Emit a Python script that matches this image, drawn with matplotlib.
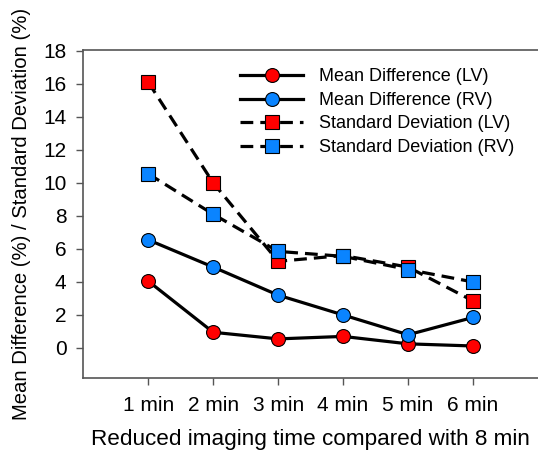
import matplotlib
matplotlib.use("Agg")
import matplotlib.pyplot as plt

plt.rcParams['font.family'] = ['Liberation Sans', 'DejaVu Sans']

# data
minutes = [1, 2, 3, 4, 5, 6]
labels = ["1 min", "2 min", "3 min", "4 min", "5 min", "6 min"]
mean_lv = [4.05, 0.95, 0.55, 0.7, 0.25, 0.12]
mean_rv = [6.55, 4.9, 3.2, 2.0, 0.8, 1.85]
sd_lv = [16.1, 10.0, 5.25, 5.6, 4.9, 2.85]
sd_rv = [10.55, 8.1, 5.85, 5.55, 4.75, 4.0]

red = "#ff0000"
blue = "#0a84ff"

fig = plt.figure(figsize=(5.38, 4.5), dpi=100)
ax = fig.add_axes([0.1548, 0.1607, 0.8452, 0.7282])

ax.plot(minutes, mean_lv, color="black", lw=2.3, marker="o", ms=10,
        mfc=red, mec="black", mew=0.8, label="Mean Difference (LV)", zorder=3)
ax.plot(minutes, mean_rv, color="black", lw=2.3, marker="o", ms=10,
        mfc=blue, mec="black", mew=0.8, label="Mean Difference (RV)", zorder=3)
ax.plot(minutes, sd_lv, color="black", lw=2.3, ls=(0, (4, 2.2)), marker="s", ms=9.5,
        mfc=red, mec="black", mew=0.8, label="Standard Deviation (LV)", zorder=3)
ax.plot(minutes, sd_rv, color="black", lw=2.3, ls=(0, (4, 2.2)), marker="s", ms=9.5,
        mfc=blue, mec="black", mew=0.8, label="Standard Deviation (RV)", zorder=3)

ax.set_xlim(0, 7)
ax.set_ylim(-1.8, 18.05)
ax.set_xticks(minutes)
ax.set_xticklabels(labels)
ax.set_yticks(range(0, 19, 2))

for s in ["left", "bottom", "top"]:
    ax.spines[s].set_color("#555555")
    ax.spines[s].set_linewidth(1.2)
ax.spines["right"].set_visible(False)
ax.tick_params(axis="both", direction="out", length=5, width=1, color="#555555",
               labelsize=15)
ax.tick_params(axis="x", pad=8)
ax.tick_params(axis="y", pad=7)

ax.set_xlabel("Reduced imaging time compared with 8 min", fontsize=16.2, labelpad=10)
ax.set_ylabel("Mean Difference (%) / Standard Deviation (%)", fontsize=14.6, labelpad=9)

leg = ax.legend(loc="upper left", bbox_to_anchor=(0.345, 0.944), frameon=False,
                fontsize=13.0, handlelength=3.5, handletextpad=0.85, labelspacing=0.36,
                borderpad=0, borderaxespad=0)

fig.savefig("out.png", dpi=100)
